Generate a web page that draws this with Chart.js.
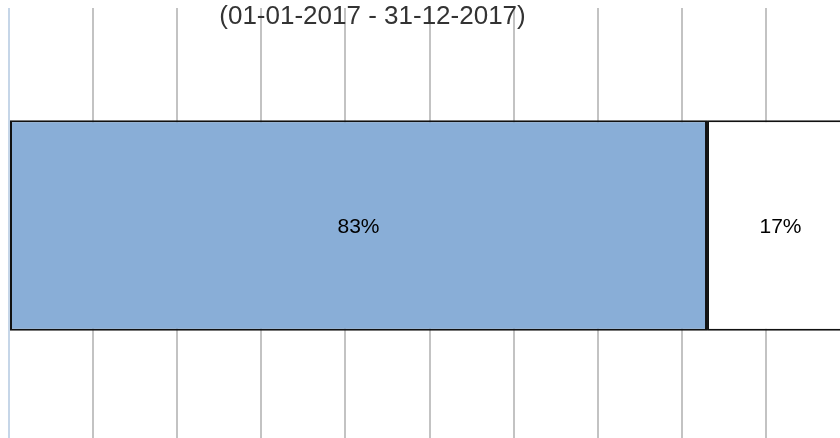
<!DOCTYPE html>
<html>
<head>
<meta charset="utf-8">
<script src="https://cdn.jsdelivr.net/npm/chart.js@4/dist/chart.umd.min.js"></script>
<style>
html,body{margin:0;padding:0;background:#fff;overflow:hidden;}
#wrap{width:840px;height:438px;overflow:hidden;position:relative;}
canvas{display:block;}
</style>
</head>
<body>
<div id="wrap"><canvas id="c" width="850" height="443"></canvas></div>
<script>
const categories = [''];
const seriesNames = ['Yes', 'No'];
const seriesA = [83];
const seriesB = [17];
const valueLabels = ['83%', '17%'];
const subtitleText = '(01-01-2017 - 31-12-2017)';

const labelPlugin = {
  id: 'labels',
  afterDatasetsDraw(chart) {
    const ctx = chart.ctx;
    ctx.save();
    ctx.fillStyle = '#000';
    ctx.font = '21px "Liberation Sans", Arial, sans-serif';
    ctx.textAlign = 'center';
    ctx.textBaseline = 'middle';
    chart.data.datasets.forEach((ds, i) => {
      const meta = chart.getDatasetMeta(i);
      meta.data.forEach((bar) => {
        const cx = (bar.x + bar.base) / 2;
        ctx.fillText(valueLabels[i], cx + (i === 1 ? 2 : 0), bar.y + 2);
      });
    });
    ctx.fillStyle = '#333';
    ctx.font = '26px "Liberation Sans", Arial, sans-serif';
    ctx.textBaseline = 'alphabetic';
    ctx.fillText(subtitleText, 372.5, 24);
    ctx.restore();
  }
};

new Chart(document.getElementById('c'), {
  type: 'bar',
  data: {
    labels: categories,
    datasets: [
      { label: seriesNames[0], data: seriesA, backgroundColor: '#89aed7', borderColor: '#111', borderWidth: 2, borderSkipped: false },
      { label: seriesNames[1], data: seriesB, backgroundColor: '#ffffff', borderColor: '#111', borderWidth: 2, borderSkipped: false }
    ]
  },
  options: {
    indexAxis: 'y',
    responsive: false,
    animation: false,
    layout: { padding: { left: 9, top: 8, right: 0, bottom: 0 } },
    plugins: { legend: { display: false }, tooltip: { enabled: false }, title: { display: false } },
    datasets: { bar: { categoryPercentage: 1, barPercentage: 0.484 } },
    scales: {
      x: {
        stacked: true, min: 0, max: 100,
        ticks: { display: false, stepSize: 10 },
        border: { display: false },
        grid: { drawTicks: false, lineWidth: 2, color: (c) => c.index === 0 ? '#c6d6e8' : '#c3c3c3' }
      },
      y: { stacked: true, display: false }
    }
  },
  plugins: [labelPlugin]
});
</script>
</body>
</html>
